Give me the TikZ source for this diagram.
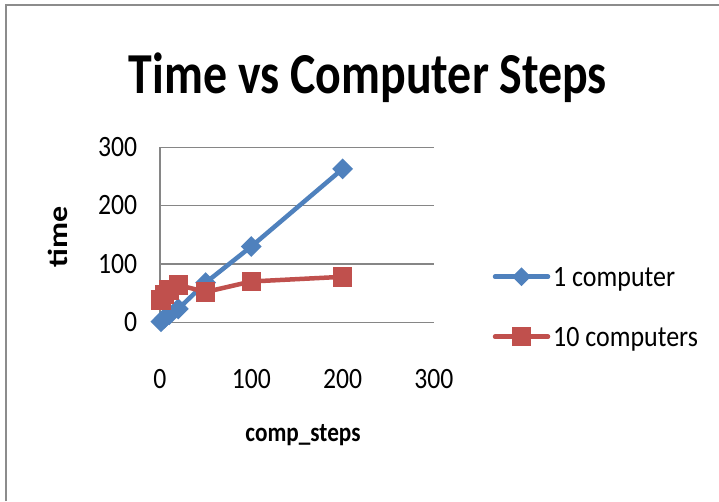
\documentclass[tikz,border=0pt]{standalone}
\usepackage{fontspec}
\setmainfont{Carlito}
\usetikzlibrary{shapes.geometric,calc}
\definecolor{seriesblue}{HTML}{4F81BD}
\definecolor{seriesred}{HTML}{C0504D}
\definecolor{gridgray}{HTML}{868686}
\definecolor{framegray}{HTML}{8C8C8C}
\tikzset{
  gridline/.style={draw=gridgray, line width=1.3pt},
  ticklabel/.style={inner sep=0pt, xscale=0.87, font=\fontsize{29.5}{34}\selectfont},
  axistitle/.style={inner sep=0pt, xscale=0.86, font=\fontsize{27}{30}\selectfont\bfseries},
  legendtext/.style={inner sep=0pt, xscale=0.88, anchor=base west, font=\fontsize{29.5}{34}\selectfont},
  bluemark/.style={diamond, fill=seriesblue, inner sep=0pt, minimum width=21pt, minimum height=21pt},
  redmark/.style={rectangle, fill=seriesred, inner sep=0pt, minimum size=19.5pt},
  serieslineblue/.style={draw=seriesblue, line width=4.5pt, line join=round, line cap=round},
  serieslinered/.style={draw=seriesred, line width=4.5pt, line join=round, line cap=round},
}
\begin{document}
\begin{tikzpicture}[x=1pt, y=-1pt]
\useasboundingbox (0,0) rectangle (719,501);
\fill[white] (0,0) rectangle (719,501);
% chart frame (top and left edges)
\draw[framegray, line width=2pt] (6,501) -- (6,5) -- (719,5);

% title
\node[inner sep=0pt, anchor=base, xscale=0.825, font=\fontsize{58}{62}\selectfont\bfseries] (title) at (368,93) {Time vs Computer Steps};

% plot area: data coordinates, x 0..300, y 0..300
\begin{scope}[shift={(160,322.3)}, x=0.913pt, y=0.5833pt]
  % horizontal gridlines and vertical axis
  \foreach \v in {0,100,200,300} {
    \coordinate (gl\v) at (0,\v);
    \coordinate (gr\v) at (300,\v);
    \draw[gridline] (gl\v) -- (gr\v);
  }
  \draw[gridline] (gl0) -- (gl300);

  % y tick labels
  \foreach \v in {0,100,200,300}
    \node[ticklabel, anchor=base east, xshift=-26pt, yshift=-9.2pt] (yt\v) at (0,\v) {\v};
  % x tick labels
  \foreach \v in {0,100,200,300}
    \node[ticklabel, anchor=base, yshift=-66pt] (xt\v) at (\v,0) {\v};

  % series: 1 computer
  \foreach \i/\sx/\sy in {1/1/1, 2/5/7, 3/10/13, 4/20/23, 5/50/68, 6/100/130, 7/200/263}
    \coordinate (b\i) at (\sx,\sy);
  \draw[serieslineblue] (b1) -- (b2) -- (b3) -- (b4) -- (b5) -- (b6) -- (b7);
  \foreach \i in {1,...,7}
    \node[bluemark] (bm\i) at (b\i) {};

  % series: 10 computers
  \foreach \i/\sx/\sy in {1/1/38, 2/5/48, 3/10/55, 4/20/64, 5/50/52, 6/100/70, 7/200/78}
    \coordinate (r\i) at (\sx,\sy);
  \draw[serieslinered] (r1) -- (r2) -- (r3) -- (r4) -- (r5) -- (r6) -- (r7);
  \foreach \i in {1,...,7}
    \node[redmark] (rm\i) at (r\i) {};
\end{scope}

% axis titles
\node[axistitle, anchor=base] (xtitle) at (303,441.5) {comp\_steps};
\node[inner sep=0pt, anchor=base, xscale=0.86, rotate=90, font=\fontsize{32}{36}\selectfont\bfseries] (ytitle) at (67,237) {time};

% legend
\coordinate (lb1) at (495,276.7);
\coordinate (lb2) at (548,276.7);
\draw[serieslineblue] (lb1) -- (lb2);
\node[bluemark, minimum width=19pt, minimum height=19pt] (lbm) at ($(lb1)!0.5!(lb2)$) {};
\node[legendtext] (lbt) at (553,286.5) {1 computer};

\coordinate (lr1) at (495,336.7);
\coordinate (lr2) at (548,336.7);
\draw[serieslinered] (lr1) -- (lr2);
\node[redmark, minimum size=18.5pt] (lrm) at ($(lr1)!0.5!(lr2)$) {};
\node[legendtext] (lrt) at (553,346.5) {10 computers};
\end{tikzpicture}
\end{document}
